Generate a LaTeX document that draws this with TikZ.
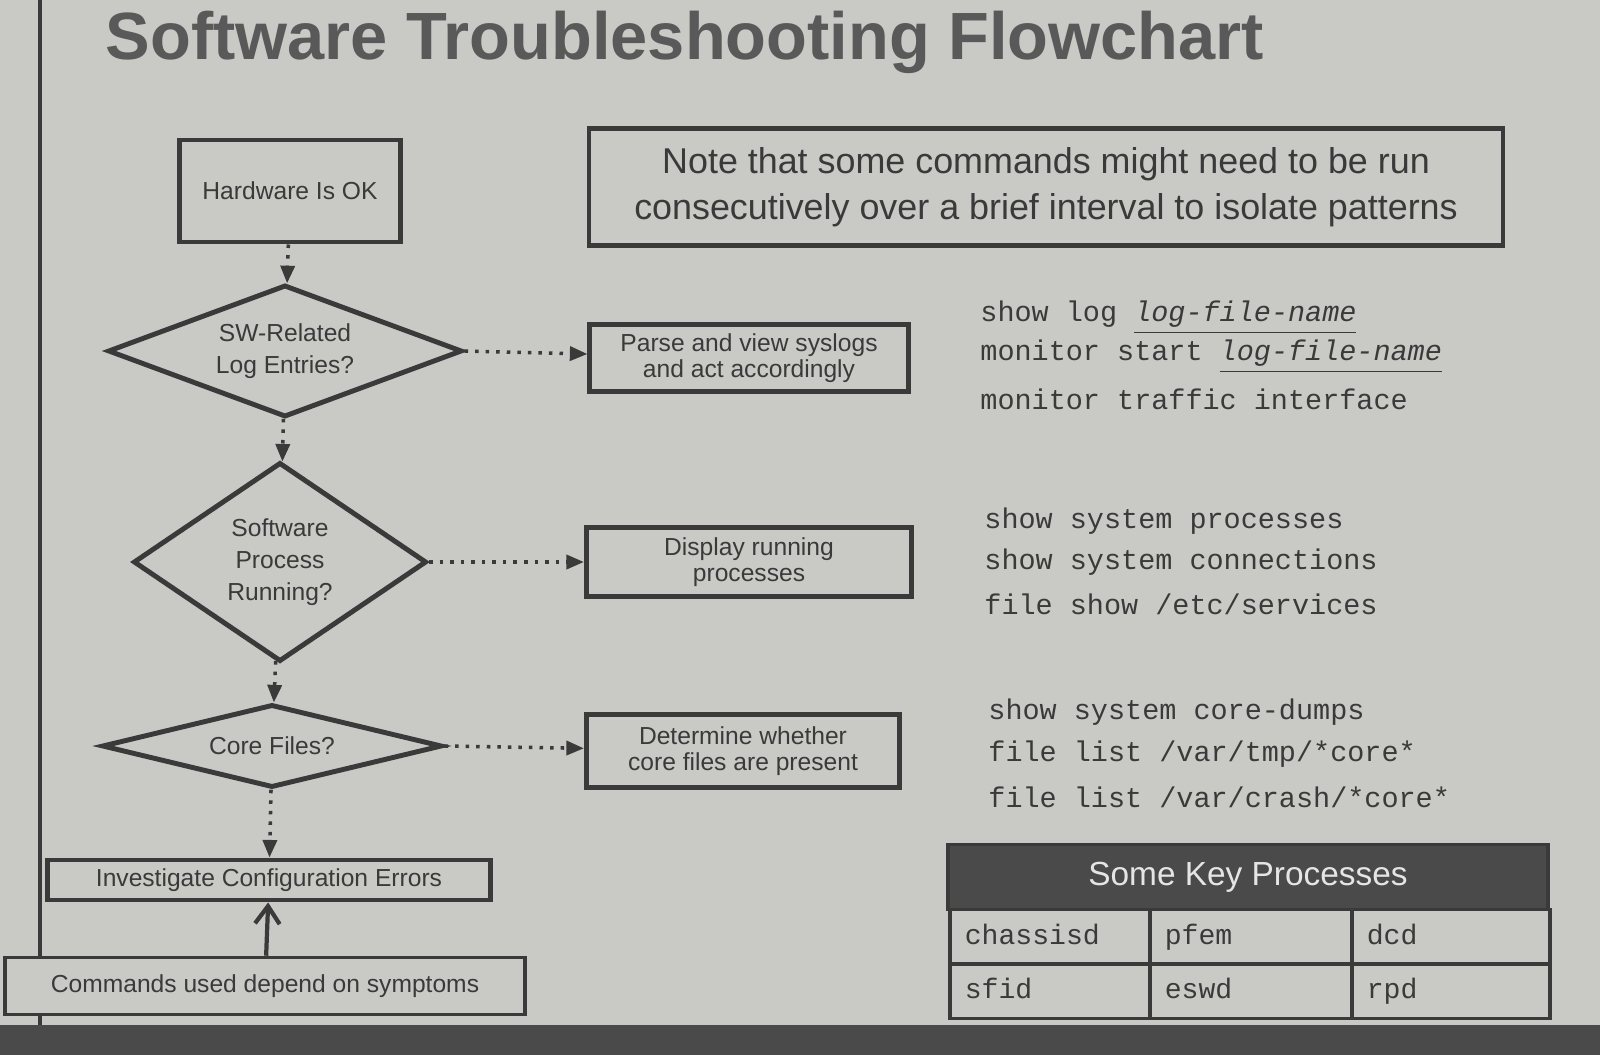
\documentclass[tikz,border=0pt]{standalone}
\usepackage{fontspec}
\setmainfont{Liberation Sans}
\newfontfamily\monof{Liberation Mono}
\usetikzlibrary{shapes.geometric,arrows.meta}
\definecolor{bg}{HTML}{C9CAC6}
\definecolor{ink}{HTML}{3A3A3A}
\definecolor{hdr}{HTML}{4A4A4A}
\begin{document}
\begin{tikzpicture}[x=0.01cm,y=-0.01cm,
  box/.style={draw=ink,line width=1.4pt,fill=bg,align=center,text=ink,font=\fontsize{7}{7.5}\selectfont,inner sep=0pt},
  dia/.style={diamond,draw=ink,line width=1.4pt,align=center,text=ink,font=\fontsize{7}{9}\selectfont,inner sep=0pt},
  dotarr/.style={ink,line width=1pt,dotted,-{Triangle[length=5pt,width=4pt]}},
  cmd/.style={anchor=west,text=ink,font=\monof\fontsize{8.1}{9}\selectfont},
  cell/.style={draw=ink,line width=1pt,anchor=west,text=ink,font=\monof\fontsize{8}{9}\selectfont}]
\useasboundingbox (0,0) rectangle (1600,1055);
\fill[bg] (0,0) rectangle (1600,1055);
\draw[ink,line width=1.2pt] (40,0) -- (40,1025);
\fill[hdr] (0,1025) rectangle (1600,1055);
\node[text=gray!70!black,font=\fontsize{19}{22}\selectfont\bfseries] (title) at (685,42) {Software Troubleshooting Flowchart};

\node[box,minimum width=2.2cm,minimum height=1.02cm] (hw) at (290,191) {Hardware Is OK};
\node[dia,aspect=2.7,minimum width=3.54cm,minimum height=1.32cm] (d1) at (285,351) {SW-Related\\Log Entries?};
\node[dia,aspect=1.47,minimum width=2.93cm,minimum height=1.99cm] (d2) at (280,562) {Software\\Process\\Running?};
\node[dia,aspect=4.1,minimum width=3.4cm,minimum height=0.83cm] (d3) at (272,746) {Core Files?};
\node[box,minimum width=4.42cm,minimum height=0.4cm] (inv) at (269,880) {Investigate Configuration Errors};
\node[box,minimum width=5.2cm,minimum height=0.57cm,line width=1pt] (cmds) at (265,986) {Commands used depend on symptoms};

\node[box,minimum width=9.13cm,minimum height=1.17cm,line width=1.2pt,font=\fontsize{10.2}{13}\selectfont] (note) at (1046,187) {Note that some commands might need to be run\\consecutively over a brief interval to isolate patterns};
\node[box,minimum width=3.18cm,minimum height=0.67cm] (parse) at (749,358) {Parse and view syslogs\\and act accordingly};
\node[box,minimum width=3.25cm,minimum height=0.69cm] (disp) at (749,562) {Display running\\processes};
\node[box,minimum width=3.13cm,minimum height=0.73cm] (det) at (743,751) {Determine whether\\core files are present};

\draw[dotarr] (hw) -- (d1);
\draw[dotarr] (d1) -- (d2);
\draw[dotarr] (d2) -- (d3);
\draw[dotarr] (d3) -- (inv);
\draw[dotarr] (d1.east) -- (parse);
\draw[dotarr] (d2.east) -- (disp);
\draw[dotarr] (d3.east) -- (det);
\draw[ink,line width=1.2pt,-{Straight Barb[length=5pt,width=7pt]}] (cmds) -- (inv);

\node[cmd] (c1) at (968,318) {show log \underline{\itshape log-file-name}};
\node[cmd] (c2) at (968,357) {monitor start \underline{\itshape log-file-name}};
\node[cmd] (c3) at (968,399) {monitor traffic interface};
\node[cmd] (c4) at (972,521) {show system processes};
\node[cmd] (c5) at (972,562) {show system connections};
\node[cmd] (c6) at (972,604) {file show /etc/services};
\node[cmd] (c7) at (976,712) {show system core-dumps};
\node[cmd] (c8) at (976,754) {file list /var/tmp/*core*};
\node[cmd] (c9) at (976,797) {file list /var/crash/*core*};

\node[draw=ink,fill=hdr,line width=1pt,minimum width=6cm,minimum height=0.65cm,text=white!90!black,font=\fontsize{9.5}{12}\selectfont] (th) at (1248,877) {Some Key Processes};
\foreach \t/\x/\y/\w in {chassisd/948/937/2, pfem/1148/937/2.02, dcd/1350/937/1.98, sfid/948/991/2, eswd/1148/991/2.02, rpd/1350/991/1.98}
  \node[cell,minimum width=\w cm,minimum height=0.54cm,text width=\w cm-0.3cm,text depth=0.05cm,inner sep=0.15cm] (k\t) at (\x,\y) {\t};
\end{tikzpicture}
\end{document}
